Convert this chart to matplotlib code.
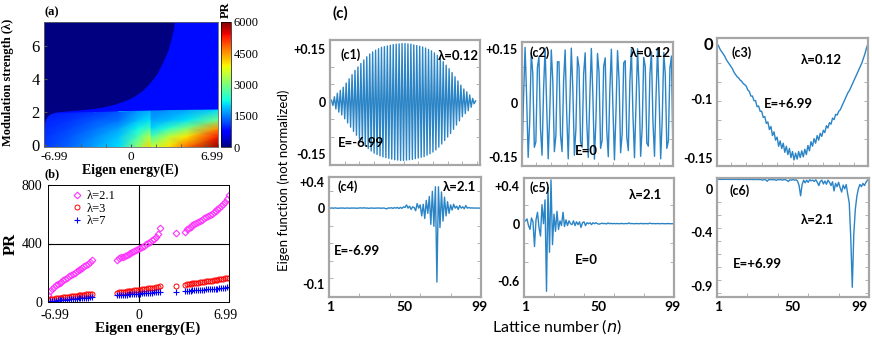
import numpy as np
import matplotlib.pyplot as plt
from matplotlib.ticker import MultipleLocator
from matplotlib.transforms import ScaledTranslation

# ---------- (a) PR map : grid ----------
E_grid = [-6.99, -5.0, -3.0, -1.0, 0.5, 1.6, 1.62, 3.0, 4.5, 6.99]
lam_rows = [-0.15, 0.5, 1.0, 1.5]
band_top = [1.93, 1.96, 2.0, 2.04, 2.07, 2.09, 2.09, 2.11, 2.13, 2.15]
pr_grid = [
    [1100, 1350, 1700, 2050, 3100, 4100, 3500, 4000, 4800, 5900],
    [1050, 1250, 1550, 1900, 2600, 3500, 2600, 3400, 4000, 5300],
    [1000, 1150, 1400, 1700, 2200, 2600, 2000, 2400, 3000, 4500],
    [950, 1050, 1250, 1400, 1850, 2100, 1700, 1850, 2100, 2900],
    [900, 950, 1050, 1250, 1600, 1800, 1500, 1600, 1700, 2000],
    [800, 800, 800, 800, 800, 800, 800, 800, 800, 800],
    [800, 800, 800, 800, 800, 800, 800, 800, 800, 800],
]
# edge of the localized (PR ~ 0) region
edge_E = [-6.99, -6.99, -6.9, -6.8, -6.64, -6.4, -5.97, -5.0, -3.84, -2.9, -1.96, -1.3,
          -0.63, 0.0, 0.44, 1.0, 1.51, 2.1, 2.58, 3.0, 3.25, 3.45, 3.52]
edge_lam = [7.5, 1.1, 1.35, 1.55, 1.72, 1.85, 1.95, 2.02, 2.09, 2.17, 2.29, 2.42,
            2.59, 2.78, 2.98, 3.28, 3.68, 4.25, 4.97, 5.7, 6.37, 7.0, 7.5]

# ---------- (b) PR vs eigen energy ----------
E_seg1 = [-6.99, -6.84, -6.70, -6.55, -6.40, -6.25, -6.10, -5.96, -5.81, -5.66, -5.51, -5.37,
          -5.22, -5.07, -4.92, -4.78, -4.63, -4.48, -4.33, -4.19, -4.04, -3.89, -3.74, -3.60]
E_seg2 = [-1.68, -1.53, -1.38, -1.23, -1.07, -0.92, -0.77, -0.62, -0.47, -0.32, -0.17, -0.02,
          0.13, 0.28, 0.44, 0.59, 0.74, 0.89, 1.04, 1.19, 1.34, 1.50, 1.65]
E_mid = [2.89]
E_seg3 = [3.58, 3.73, 3.88, 4.02, 4.17, 4.32, 4.47, 4.62, 4.76, 4.91, 5.06, 5.21,
          5.36, 5.50, 5.65, 5.80, 5.95, 6.10, 6.24, 6.39, 6.54, 6.69, 6.84, 6.99]
E_all = E_seg1 + E_seg2 + E_mid + E_seg3

pr_21 = [46, 75, 92, 104, 113, 122, 131, 140, 149, 158, 166, 175, 183, 192, 200, 209, 217, 226,
         234, 243, 252, 261, 272, 286,
         290, 300, 306, 311, 316, 321, 327, 333, 340, 347, 354, 362, 370, 378, 386, 395, 404, 413,
         423, 434, 447, 466, 503,
         469,
         480, 496, 507, 516, 524, 532, 540, 548, 556, 564, 572, 580, 588, 597, 605, 614, 623, 633,
         643, 654, 667, 682, 703, 731]
pr_3 = [16, 18, 20, 22, 24, 26, 28, 30, 31, 33, 35, 37, 38, 40, 42, 43, 45, 47, 48, 50, 52, 53, 55, 57,
        64, 66, 68, 70, 71, 73, 75, 77, 78, 80, 82, 84, 85, 87, 89, 91, 93, 95, 97, 99, 101, 104, 107,
        107,
        119, 121, 123, 125, 127, 129, 131, 133, 135, 137, 139, 141, 143, 145, 147, 149, 151, 153,
        155, 157, 159, 161, 164, 167]
pr_7 = [5, 6, 8, 9, 10, 11, 12, 14, 15, 16, 17, 18, 19, 20, 22, 23, 24, 25, 26, 28, 29, 30, 32, 34,
        46, 47, 48, 49, 50, 51, 52, 53, 54, 55, 56, 57, 58, 59, 60, 61, 62, 63, 64, 65, 66, 67, 69,
        69,
        75, 76, 77, 78, 79, 80, 81, 82, 83, 84, 85, 86, 87, 88, 89, 90, 91, 92, 94, 95, 97, 99, 101, 103]

# ---------- (c) eigen functions, sites n = 1..99 ----------
sites = np.arange(1, 100)
c1_psi = [0.005, -0.010, 0.015, -0.020, 0.025, -0.029, 0.033, -0.037, 0.042, -0.048,
          0.054, -0.060, 0.066, -0.072, 0.078, -0.084, 0.090, -0.095, 0.100, -0.105,
          0.110, -0.115, 0.120, -0.125, 0.129, -0.133, 0.137, -0.140, 0.143, -0.146,
          0.148, -0.150, 0.152, -0.154, 0.156, -0.157, 0.158, -0.159, 0.160, -0.161,
          0.162, -0.163, 0.164, -0.165, 0.165, -0.166, 0.166, -0.167, 0.167, -0.167,
          0.167, -0.166, 0.166, -0.165, 0.165, -0.164, 0.163, -0.162, 0.161, -0.160,
          0.159, -0.158, 0.157, -0.156, 0.154, -0.152, 0.150, -0.148, 0.146, -0.143,
          0.140, -0.137, 0.133, -0.129, 0.125, -0.120, 0.115, -0.110, 0.105, -0.100,
          0.095, -0.090, 0.084, -0.078, 0.072, -0.066, 0.060, -0.054, 0.048, -0.042,
          0.037, -0.033, 0.029, -0.025, 0.020, -0.015, 0.010, -0.005, 0.003]
c2_psi = [-0.158, 0.017,
          0.155, 0.017, -0.151, -0.050, 0.140, 0.081, -0.123, -0.108, 0.099, 0.129,
          -0.071, -0.145, 0.039, 0.153, -0.006, -0.155, -0.028, 0.148, 0.061, -0.135,
          -0.090, 0.115, 0.115, -0.090, -0.135, 0.061, 0.148, -0.028, -0.155, -0.006,
          0.153, 0.039, -0.145, -0.071, 0.129, 0.099, -0.108, -0.123, 0.081, 0.140,
          -0.050, -0.151, 0.017,
          0.152, 0.020, -0.156, -0.046, 0.138, 0.085, -0.126, -0.104, 0.102, 0.126,
          -0.075, -0.149, 0.036, 0.150, -0.010, -0.158, -0.024, 0.146, 0.064, -0.138,
          -0.086, 0.112, 0.118, -0.094, -0.132, 0.058, 0.150, -0.032, -0.152, -0.003,
          0.151, 0.042, -0.148, -0.068, 0.127, 0.102, -0.111, -0.120, 0.078, 0.142,
          -0.054, -0.148, 0.020,
          0.153, 0.014, -0.155, -0.047, 0.141, 0.078, -0.126, -0.105, 0.097, 0.131, -0.150]
c3_psi = [0.0, -0.003, -0.0075, -0.0105, -0.0135, -0.0165, -0.021, -0.024, -0.027, -0.030,
          -0.033, -0.0375, -0.0405, -0.0435, -0.045, -0.048, -0.0495, -0.0525, -0.054, -0.056,
          -0.061, -0.063, -0.069, -0.069, -0.075, -0.075, -0.083, -0.082, -0.089, -0.089,
          -0.097, -0.096, -0.105, -0.103, -0.113, -0.109, -0.121, -0.116, -0.127, -0.123,
          -0.135, -0.128, -0.138, -0.131, -0.143, -0.135, -0.146, -0.138, -0.150, -0.142,
          -0.153, -0.144, -0.152, -0.142, -0.150, -0.141, -0.149, -0.139, -0.146, -0.134,
          -0.141, -0.129, -0.135, -0.125, -0.131, -0.121, -0.127, -0.118, -0.122, -0.114,
          -0.117, -0.108, -0.111, -0.104, -0.106, -0.098, -0.100, -0.093, -0.094, -0.089,
          -0.087, -0.0825, -0.078, -0.0735, -0.069, -0.0645, -0.0615, -0.057, -0.0525, -0.048,
          -0.0435, -0.039, -0.0345, -0.030, -0.0255, -0.0195, -0.0135, -0.006, 0.0]
c4_psi = [0.0, 0.003, -0.002, 0.004, 0.0, -0.003, 0.002, 0.0, 0.003, -0.002,
          0.0, 0.002, 0.0, -0.002, 0.003, 0.0, 0.002, -0.002, 0.0, 0.002,
          0.004, 0.0, 0.006, 0.0, 0.002, -0.003, 0.0, 0.002, 0.0, -0.002,
          0.002, 0.0, 0.003, -0.002, 0.0, 0.002, -0.004, -0.012, 0.004, 0.0,
          0.006, -0.004, 0.008, 0.0, 0.01, -0.006, 0.012, -0.004, 0.02, 0.01,
          0.05, 0.0, 0.03, -0.02, 0.02, 0.01, -0.04, 0.07, 0.0, 0.05,
          -0.12, 0.06, -0.16, 0.12, -0.08, 0.18, -0.25, 0.26, -0.28, 0.33,
          -1.14, 0.33, -0.30, 0.25, -0.20, 0.17, -0.12, 0.10, -0.08, 0.05,
          -0.03, 0.06, 0.0, 0.03, -0.02, 0.04, 0.0, 0.02, -0.01, 0.04,
          0.0, 0.01, 0.0, 0.005, 0.0, 0.003, 0.0, 0.002, 0.0]
c5_psi = [0.03, 0.05, -0.02, -0.06, 0.06, 0.02, -0.24, 0.04, 0.12, -0.04,
          -0.13, 0.20, 0.0, 0.25, -0.71, 0.38, -0.30, 0.46, -0.22, 0.10,
          -0.08, 0.13, -0.06, 0.03, -0.02, 0.12, -0.03, 0.04, -0.02, 0.03,
          0.0, -0.01, 0.03, -0.02, 0.02, -0.01, 0.02, -0.04, 0.01, 0.02,
          -0.02, 0.01, 0.0, 0.01, -0.01, 0.01, 0.0, 0.01, 0.0, -0.005,
          0.0, 0.005, 0.0, 0.003, -0.003, 0.008, 0.0, 0.003, 0.0, 0.002,
          0.0, 0.002, 0.0, 0.0, 0.003, 0.0, 0.0, 0.002, 0.0, 0.008,
          0.0, 0.002, 0.0, 0.0, 0.002, 0.0, 0.0, 0.003, 0.0, 0.0,
          0.002, 0.0, 0.0, 0.006, 0.0, 0.002, 0.0, 0.0, 0.002, 0.0,
          0.0, 0.002, 0.0, 0.0, 0.0, 0.002, 0.0, 0.0, 0.0]
c6_psi = [0.088, 0.088, 0.087, 0.088, 0.087, 0.088, 0.088, 0.087, 0.088, 0.087,
          0.088, 0.087, 0.088, 0.087, 0.086, 0.088, 0.087, 0.088, 0.086, 0.087,
          0.087, 0.086, 0.087, 0.085, 0.087, 0.086, 0.087, 0.085, 0.086, 0.080,
          0.086, 0.084, 0.070, 0.085, 0.084, 0.086, 0.083, 0.085, 0.078, 0.085,
          0.084, 0.085, 0.080, 0.085, 0.084, 0.078, 0.068, 0.084, 0.080, 0.085,
          0.080, 0.084, 0.072, 0.030, -0.065, 0.040, 0.080, 0.055, 0.080, 0.060,
          0.084, 0.074, 0.080, 0.068, 0.084, 0.060, 0.030, 0.070, 0.080, 0.045,
          0.072, 0.042, 0.080, 0.060, 0.030, 0.065, -0.020, 0.050, 0.020, 0.060,
          0.010, -0.030, 0.035, 0.000, 0.040, -0.050, -0.130, -0.450, -0.910, -0.420,
          -0.190, -0.070, 0.000, 0.040, 0.020, 0.050, 0.030, 0.060, 0.080]

# ---------------------------------------------------------------
W, H = 872, 338


def box(l, t, r, b):
    return [l / W, 1 - b / H, (r - l) / W, (b - t) / H]


def ptext(x, y, s, **kw):
    fig.text(x / W, 1 - y / H, s, ha='center', va='center', **kw)


def nudge(label, dx):
    # shift a tick label sideways by dx pixels
    label.set_transform(label.get_transform() +
                        ScaledTranslation(dx / 100, 0, fig.dpi_scale_trans))


serif = ['Liberation Serif', 'DejaVu Serif']
sans = ['Lato', 'DejaVu Sans']
plt.rcParams['font.family'] = serif
plt.rcParams['mathtext.fontset'] = 'dejavusans'

fig = plt.figure(figsize=(8.72, 3.38), dpi=100)

# ---------------- panel (a) ----------------
ax_a = fig.add_axes(box(44, 22, 218, 147))
ncol = len(E_grid)
X = np.tile(E_grid, (7, 1))
band_top = np.array(band_top)
Y = np.vstack([np.full(ncol, r) for r in lam_rows] +
              [band_top, band_top + 0.02, np.full(ncol, 7.5)])
mesh = ax_a.pcolormesh(X, Y, np.array(pr_grid), cmap='jet', vmin=0, vmax=6000,
                       shading='gouraud')
ax_a.fill(edge_E, edge_lam, color=plt.cm.jet(0.0), lw=0)
ax_a.set_xlim(-6.99, 6.99)
ax_a.set_ylim(-0.15, 7.45)
ax_a.set_xticks([-6.99, 0, 6.99], ['-6.99', '0', '6.99'], fontsize=9.5)
ax_a.set_yticks([0, 2, 4, 6], ['0', '2', '4', '6'], fontsize=12)
ax_a.xaxis.set_minor_locator(MultipleLocator(2))
ax_a.tick_params(which='both', direction='in', length=2, pad=3, color='#555555')
for s in ax_a.spines.values():
    s.set_linewidth(0.6)
    s.set_color('#666666')
xl_a = ax_a.get_xticklabels()
nudge(xl_a[0], 10)
nudge(xl_a[2], -6)

cax = fig.add_axes(box(221, 22, 231, 147))
cb = fig.colorbar(mesh, cax=cax, ticks=[0, 1500, 3000, 4500, 6000])
cb.ax.tick_params(labelsize=9, length=0, pad=2)
cb.outline.set_linewidth(0.5)

ptext(52, 12, '(a)', fontsize=9, fontweight='bold')
ptext(226, 10, 'PR', fontsize=9, fontweight='bold', rotation=90)
ptext(8, 82, 'Modulation strength (λ)', fontsize=9, fontweight='bold', rotation=90)
ptext(130, 170, 'Eigen energy(E)', fontsize=10, fontweight='bold')

# ---------------- panel (b) ----------------
ax_b = fig.add_axes(box(48, 185, 229, 302))
ax_b.axvline(0, color='black', lw=0.8)
ax_b.axhline(400, color='black', lw=0.8)
ax_b.plot(E_all, pr_21, ls='none', marker='D', ms=3.4, mfc='none', mec='#ff33ff',
          mew=0.8, label='λ=2.1')
ax_b.plot(E_all, pr_3, ls='none', marker='o', ms=3.6, mfc='none', mec='red',
          mew=0.7, label='λ=3')
ax_b.plot(E_all, pr_7, ls='none', marker='+', ms=4, mec='blue', mew=0.8, label='λ=7')
ax_b.set_xlim(-6.99, 6.99)
ax_b.set_ylim(0, 800)
ax_b.set_xticks([-6.99, 0, 6.99], ['-6.99', '0', '6.99'], fontsize=10)
ax_b.set_yticks([0, 400, 800], ['0', '400', '800'], fontsize=10)
ax_b.tick_params(axis='x', direction='in', length=2, pad=5)
ax_b.tick_params(axis='y', direction='in', length=2, pad=4)
for s in ax_b.spines.values():
    s.set_linewidth(0.7)
xl_b = ax_b.get_xticklabels()
nudge(xl_b[0], 7)
nudge(xl_b[2], -3)
ax_b.legend(loc='upper left', bbox_to_anchor=(0.08, 1.03), frameon=False, fontsize=9,
            handletextpad=0.2, labelspacing=0.05, handlelength=1.0, borderpad=0.2)
ptext(52, 174, '(b)', fontsize=9, fontweight='bold')
ptext(11, 244, 'PR', fontsize=12, fontweight='bold', rotation=90)
ptext(148, 328, 'Eigen energy(E)', fontsize=11, fontweight='bold')

# ---------------- panel (c) ----------------
line_col = '#2a84c6'
frame_col = '#a6a6a6'
panels = [
    # data, frame (l, t, r, b), xlim, ylim, yticks, ylabels, x minor, y minor, bottom row
    (c1_psi, (330, 40, 480, 165), (0, 102), (-0.18, 0.177), [0.15, 0, -0.15],
     ['+0.15', '0', '-0.15'], 10, 0.05, False),
    (c2_psi, (522, 42, 673, 166), (1, 99), (-0.175, 0.17), [0.15, 0, -0.15],
     ['+0.15', '0', '-0.15'], 10, 0.05, False),
    (c3_psi, (717, 38, 868, 166), (1, 99), (-0.161, 0.0074), [0.0, -0.0735, -0.15],
     ['0', '-0.1', '-0.15'], 10, 0.025, False),
    (c4_psi, (329, 177, 481, 297), (0, 100), (-1.37, 0.48), [0.4, 0, -1.17],
     ['+0.4', '0', '-0.1'], 20, 0.27, True),
    (c5_psi, (524, 178, 674, 297), (0, 100), (-0.77, 0.48), [0.4, 0, -0.6],
     ['+0.4', '0', '-0.6'], 20, 0.2, True),
    (c6_psi, (717, 178, 869, 297), (0, 100), (-1.0, 0.1), [0, -0.4, -0.9],
     ['0', '-0.4', '-0.9'], 20, 0.12, True),
]
c_axes = []
for psi, frame, xl, yl, yt, ylab, xm, ym, bottom in panels:
    ax = fig.add_axes(box(*frame))
    ax.plot(sites, psi, color=line_col, lw=1.0)
    ax.set_xlim(*xl)
    ax.set_ylim(*yl)
    ax.set_yticks(yt, ylab, fontfamily=sans, fontweight='bold', fontsize=9)
    if bottom:
        ax.set_xticks([1, 50, 99], ['1', '50', '99'], fontfamily=sans,
                      fontweight='bold', fontsize=10)
    else:
        ax.set_xticks([])
    ax.xaxis.set_minor_locator(MultipleLocator(xm))
    ax.yaxis.set_minor_locator(MultipleLocator(ym))
    ax.tick_params(which='major', length=0, pad=3)
    ax.tick_params(which='minor', direction='in', length=3, color=frame_col,
                   left=True, right=True, bottom=True, top=False)
    for s in ax.spines.values():
        s.set_color(frame_col)
        s.set_linewidth(1.6)
    c_axes.append(ax)

# enlarged zero label in c3, last x label of c6 kept inside the figure
c_axes[2].get_yticklabels()[0].set_fontsize(12)
c_axes[5].get_xticklabels()[-1].set_horizontalalignment('right')

bold_sans = dict(family=sans, fontweight='bold')
ptext(351, 55, '(c1)', fontsize=9, **bold_sans)
ptext(458, 56, 'λ=0.12', fontsize=9.5, **bold_sans)
ptext(361, 143, 'E=-6.99', fontsize=9.5, **bold_sans)
ptext(540, 53, '(c2)', fontsize=9, **bold_sans)
ptext(650, 53, 'λ=0.12', fontsize=9.5, **bold_sans)
ptext(586, 151, 'E=0', fontsize=9.5, **bold_sans)
ptext(742, 53, '(c3)', fontsize=9, **bold_sans)
ptext(821, 60, 'λ=0.12', fontsize=9.5, **bold_sans)
ptext(788, 104, 'E=+6.99', fontsize=9.5, **bold_sans)
ptext(348, 187, '(c4)', fontsize=9, **bold_sans)
ptext(459, 187, 'λ=2.1', fontsize=9.5, **bold_sans)
ptext(357, 251, 'E=-6.99', fontsize=9.5, **bold_sans)
ptext(540, 188, '(c5)', fontsize=9, **bold_sans)
ptext(645, 195, 'λ=2.1', fontsize=9.5, **bold_sans)
ptext(586, 260, 'E=0', fontsize=9.5, **bold_sans)
ptext(740, 191, '(c6)', fontsize=9, **bold_sans)
ptext(817, 220, 'λ=2.1', fontsize=9.5, **bold_sans)
ptext(757, 264, 'E=+6.99', fontsize=9.5, **bold_sans)

ptext(340, 13, '(c)', fontsize=11, **bold_sans)
ptext(284, 180, 'Eigen function (not normalized)', fontsize=9.5, family=sans, rotation=90)
ptext(557, 327, r'Lattice number ($\it{n}$)', fontsize=11.5, family=sans)

fig.savefig('out.png', dpi=100)
